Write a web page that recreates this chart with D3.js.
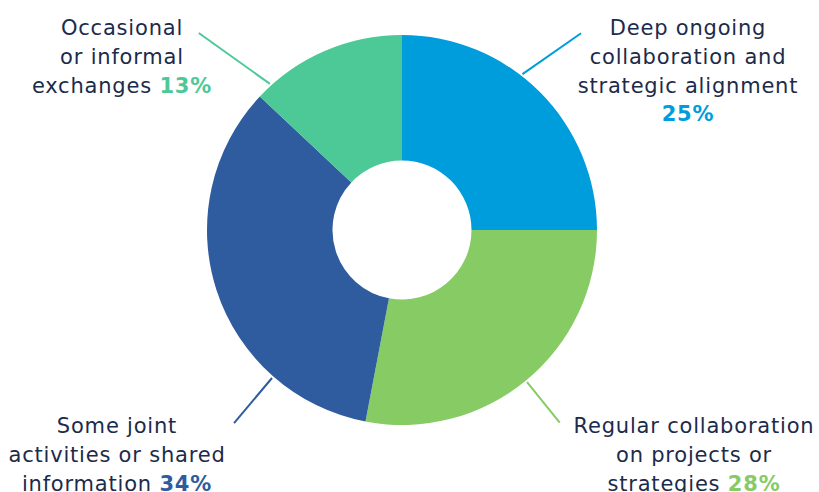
<!DOCTYPE html>
<html><head><meta charset="utf-8">
<script src="https://cdn.jsdelivr.net/npm/d3@7"></script>
<style>body{margin:0;background:#fff}svg{display:block}</style>
</head><body>
<svg id="c" width="819" height="492"></svg>
<script>
const categories = ["Deep ongoing collaboration and strategic alignment","Regular collaboration on projects or strategies","Some joint activities or shared information","Occasional or informal exchanges"];
const values = [25, 28, 34, 13];
const colors = ["#009ddc", "#86cb63", "#2f5c9e", "#4cc997"];
const labelLines = [
  [["Deep ongoing"],["collaboration and"],["strategic alignment"],["", true]],
  [["Regular collaboration"],["on projects or"],["strategies ", true]],
  [["Some joint"],["activities or shared"],["information  ", true]],
  [["Occasional"],["or informal"],["exchanges ", true]]
];
const layout = [
  {x:688, y:35, a1:37.7, a2:42.3, r2:266},
  {x:694, y:433, a1:140.6, a2:140.7, r2:249},
  {x:117, y:433, a1:221.3, a2:221, r2:256},
  {x:122, y:35, a1:317.9, a2:314.1, r2:283}
];
const svg = d3.select("#c");
const cx = 402, cy = 230, R = 195, r = 69.5;
const g = svg.append("g").attr("transform", `translate(${cx},${cy})`);
const pie = d3.pie().sort(null).value(d => d)(values);
const arc = d3.arc().innerRadius(r).outerRadius(R);
g.selectAll("path").data(pie).join("path").attr("d", arc).attr("fill", (d,i) => colors[i]);
const pol = (a, rr) => [rr*Math.sin(a*Math.PI/180), -rr*Math.cos(a*Math.PI/180)];
layout.forEach((L,i) => {
  const p1 = pol(L.a1, R+2), p2 = pol(L.a2, L.r2);
  g.append("line").attr("x1",p1[0]).attr("y1",p1[1]).attr("x2",p2[0]).attr("y2",p2[1])
    .attr("stroke", colors[i]).attr("stroke-width", 2);
  const t = svg.append("text").attr("text-anchor","middle")
    .attr("font-family","'DejaVu Sans', sans-serif").attr("font-size", 21)
    .attr("letter-spacing", 0.8).attr("fill","#1c2b4a");
  labelLines[i].forEach((ln, j) => {
    const ts = t.append("tspan").attr("x", L.x).attr("y", L.y + j*28.8);
    ts.append("tspan").text(ln[0]);
    if (ln[1]) ts.append("tspan").attr("font-weight", 700).attr("fill", colors[i]).text(values[i] + "%");
  });
});
</script>
</body></html>
